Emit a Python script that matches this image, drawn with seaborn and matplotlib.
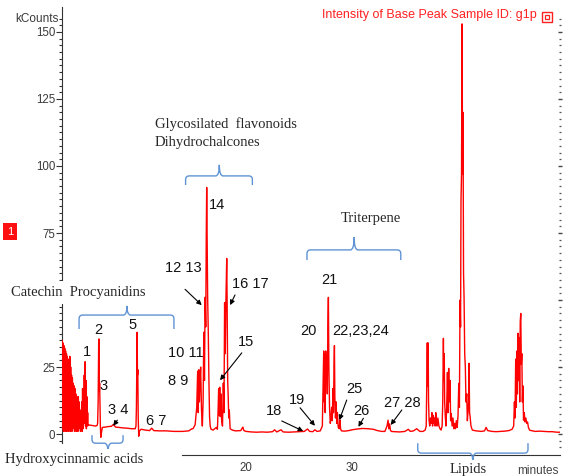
import numpy as np
import pandas as pd
import matplotlib
matplotlib.use("Agg")
import matplotlib.pyplot as plt
from matplotlib.path import Path
from matplotlib.patches import PathPatch, Rectangle
from matplotlib.ticker import FixedLocator, NullFormatter
import seaborn as sns

# ---- chromatogram trace: (retention time [min], intensity [kCounts]) ----
segment_start = [(2.66,35),(2.70,2),(2.74,34),(2.78,1),(2.82,33),(2.86,3),(2.90,32),(2.94,1),(2.98,31),(3.02,2),
                 (3.06,30),(3.10,1),(3.14,29),(3.18,4),(3.22,28),(3.26,1),(3.30,27),(3.34,2),(3.38,29),(3.42,1),
                 (3.46,25),(3.50,3),(3.54,22),(3.58,1),(3.62,21),(3.66,2),(3.70,19),(3.74,6),(3.78,18),(3.82,1),
                 (3.86,17),(3.90,3),(3.94,15),(3.98,1),(4.02,14),(4.06,5),(4.10,13),(4.14,1),(4.18,14),(4.22,2),
                 (4.26,12),(4.30,6),(4.34,9),(4.38,1),(4.42,8),(4.46,4),(4.50,12),(4.54,1),(4.58,17),(4.62,2),
                 (4.66,16),(4.70,5),(4.74,22),(4.78,4),(4.82,27),(4.86,3),(4.90,20),(4.94,2),(4.98,14),(5.02,3),
                 (5.06,8),(5.10,3.2)]
segment_early = [(5.2,3.4),(5.5,3.2),(5.8,3.0),(5.95,3.2),(6.0,4),(6.05,12),(6.10,34),(6.13,35.5),(6.16,16),
                 (6.19,19),(6.22,12),(6.26,3),(6.30,-1.2),(6.36,0.5),(6.45,2.5),(6.7,2.6),(7.0,2.8),(7.3,2.9),
                 (7.48,3.6),(7.7,2.6),(8.0,2.5),(8.4,2.3),(8.8,2.2),(9.2,2.0),(9.55,2.0),(9.62,3),(9.66,10),
                 (9.70,25),(9.73,38),(9.76,22),(9.79,24),(9.83,6),(9.88,-0.8),(9.95,1.2),(10.1,1.8),(10.5,1.5),
                 (10.9,1.3),(11.1,2.2),(11.3,1.3),(11.8,1.2),(12.5,1.2),(13.2,1.0),(14.0,1.0),(14.6,1.2),(14.9,2.0)]
segment_flavonoids = [(15.0,2.0),(15.2,3.5),(15.35,10),(15.44,23.5),(15.49,8),(15.55,24),(15.60,12),(15.66,20),
                      (15.72,25),(15.80,9),(15.88,3),(15.95,12),(16.02,38),(16.08,20),(16.14,51),(16.20,40),
                      (16.25,74),(16.29,92),(16.33,74),(16.38,51),(16.44,38),(16.50,20),(16.56,6.5),(16.62,3),
                      (16.70,1.8),(16.9,1.5),(17.2,2.5),(17.3,1.8),(17.36,8),(17.42,17),(17.47,7),(17.52,17.5),
                      (17.57,6.5),(17.63,15),(17.70,5),(17.78,3),(17.86,19),(17.92,8),(17.98,49),(18.04,30),
                      (18.10,49),(18.15,60),(18.18,65.5),(18.22,48),(18.27,20),(18.32,14),(18.37,6),(18.42,9),
                      (18.5,2),(18.7,1.5),(19.0,1.2),(19.5,1.3),(19.7,2.6),(19.8,1.3)]
segment_triterpene = [(20.0,1.0),(20.5,0.8),(21.0,0.7),(21.5,0.8),(22.0,0.7),(22.5,0.9),(22.7,1.6),(22.9,0.8),
                      (23.3,1.6),(23.5,0.8),(24.0,0.7),(24.5,0.8),(25.0,0.9),(25.5,1.0),(25.8,1.9),(26.0,1.0),
                      (26.3,0.9),(26.5,1.6),(26.7,1.0),(27.0,1.2),(27.2,3),(27.28,20),(27.33,31),(27.37,12),
                      (27.42,30),(27.47,8),(27.52,31),(27.57,20),(27.62,29),(27.67,15),(27.72,40),(27.77,51),
                      (27.82,24),(27.88,10),(27.95,4),(28.02,6),(28.08,10),(28.14,5),(28.20,17),(28.25,8),
                      (28.30,25),(28.34,33),(28.38,14),(28.44,6),(28.50,12),(28.56,4),(28.62,8),(28.70,2.5),
                      (28.80,2),(28.86,5.3),(28.92,2.0),(29.0,1.2),(29.3,1.1),(29.7,1.3),(30.0,1.6),(30.5,1.9),
                      (31.0,2.1),(31.5,2.0),(32.0,1.8),(32.4,1.3),(32.8,1.0),(33.1,1.0),(33.3,3),(33.4,5.2),
                      (33.47,2.0),(33.55,3.8),(33.62,1.5),(33.7,1.0),(34.0,0.9),(34.5,0.8),(35.0,1.0),(35.3,1.8),
                      (35.5,1.0),(35.8,1.2),(36.1,2.0),(36.4,1.0)]
segment_lipids = [(36.7,1.0),(36.9,1.5),(37.0,3),(37.06,20),(37.10,34),(37.14,18),(37.18,34),(37.22,12),(37.27,5),
                  (37.33,3),(37.40,6),(37.48,4),(37.54,8),(37.60,3),(37.66,7),(37.72,4),(37.78,6),(37.84,3),
                  (37.90,8),(37.96,5),(38.02,3),(38.10,6),(38.20,3),(38.30,2),(38.40,1.5),(38.50,3),(38.56,12),
                  (38.62,35.7),(38.66,20),(38.70,30),(38.74,12),(38.80,6.5),(38.86,3),(38.93,10),(39.00,23),
                  (39.06,8),(39.12,24.5),(39.18,12),(39.25,20),(39.30,5),(39.36,7.7),(39.44,3),(39.52,6),
                  (39.60,2),(39.68,4),(39.76,2),(39.84,5),(39.92,2.5),(40.00,7),(40.07,18.9),(40.13,10),
                  (40.19,50),(40.24,40),(40.28,87),(40.33,97),(40.38,153),(40.43,97),(40.47,120),(40.52,60),
                  (40.57,51),(40.63,30),(40.69,25),(40.75,12),(40.82,15),(40.88,5),(40.94,8),(40.99,12),
                  (41.04,26.4),(41.09,8),(41.14,6.5),(41.22,3),(41.35,1.5),(41.7,1.2),(42.2,1.0),(42.5,1.2),
                  (42.65,2.5),(42.8,1.3),(43.2,1.0),(43.6,0.9),(44.0,1.0),(44.4,1.1),(44.8,1.3),(45.1,1.8),
                  (45.25,3),(45.32,12),(45.38,6),(45.44,28),(45.50,10),(45.55,31),(45.60,15),(45.66,37.6),
                  (45.71,20),(45.76,36),(45.82,12),(45.87,42),(45.92,45),(45.97,26),(46.02,30),(46.07,12),
                  (46.12,18),(46.18,5.2),(46.25,8),(46.32,4.5),(46.40,6),(46.48,4),(46.56,4.5),(46.64,2.5),
                  (46.75,1.5),(46.9,1.3),(47.3,1.0),(47.7,1.1),(48.1,1.0),(48.5,0.9),(48.9,0.9),(49.3,0.7),(49.6,0.7)]

# ---- peak number labels (text, time, kCounts) ----
peak_labels = [("1",5.0,30.6),("2",6.04,38.8),("3",6.6,17.9),("3 4",7.92,9.0),("5",9.25,40.7),
               ("6 7",11.5,4.9),("8 9",13.6,19.8),("10 11",14.3,30.2),("12 13",14.06,62.0),("14",17.3,85.4),
               ("16 17",20.4,55.9),("15",20.0,34.2),("18",22.64,8.7),("19",24.8,12.7),("20",25.85,38.4),
               ("21",27.9,57.5),("22,23,24",30.85,38.4),("25",30.2,17.0),("26",30.85,8.7),("27 28",34.7,11.7)]
arrows = [((7.86,5.2),(7.48,3.1)),((14.25,54.0),(15.82,48.1)),((18.96,51.9),(18.5,48.1)),
          ((19.6,30.3),(17.55,20.1)),((23.37,4.9),(25.4,1.1)),((25.1,9.8),(26.5,3.1)),
          ((29.5,12.7),(28.8,5.2)),((31.07,5.9),(30.6,2.7)),((34.7,9.0),(33.65,3.4))]
# braces: (t_start, t_end, y_line, y_ends, t_tip, y_tip)
braces = [(4.25,13.2,44.4,39.2,8.77,47.8),(5.47,8.4,-3.4,-0.4,6.98,-6.7),
          (14.3,20.6,96.3,92.9,17.48,100.4),(25.75,34.6,68.7,64.9,30.2,73.5),
          (36.2,46.6,-7.1,-3.4,41.4,-10.4)]

y_major = [0, 25, 50, 75, 100, 125, 150]
y_major_labels = ["0", "25", "", "75", "100", "125", "150"]   # "50" hidden behind a label
x_major = [20, 30, 40]
x_major_labels = ["20", "30", ""]                              # "40" hidden behind "Lipids"

trace = segment_start + segment_early + segment_flavonoids + segment_triterpene + segment_lipids
df = pd.DataFrame(trace, columns=["time", "kcounts"])

sns.set_style("white")
plt.rcParams["font.family"] = ["Liberation Sans", "DejaVu Sans"]

W, H = 572, 476
def fx(x): return x / W
def fy(y): return 1 - y / H

fig = plt.figure(figsize=(5.72, 4.76), dpi=100)
ax = fig.add_axes([fx(62), fy(455), (560 - 62) / W, (455 - 7) / H])
sns.lineplot(data=df, x="time", y="kcounts", ax=ax, color="#ff0000", linewidth=1.0,
             sort=False, estimator=None, zorder=3)
ax.set_xlim(2.64, 49.62)
ax.set_ylim(-7.8, 159.3)
ax.set_xlabel("")
ax.set_ylabel("")

for s in ["top", "right"]:
    ax.spines[s].set_visible(False)
ax.spines["left"].set_bounds(-3.4, 159.3)
ax.spines["bottom"].set_bounds(14, 49.62)
for s in ["left", "bottom"]:
    ax.spines[s].set_color("#333333")
    ax.spines[s].set_linewidth(0.8)

ax.set_yticks(y_major)
ax.set_yticklabels(y_major_labels)
ax.yaxis.set_minor_locator(FixedLocator([v * 2.5 for v in range(-1, 63)]))
ax.set_xticks(x_major)
ax.set_xticklabels(x_major_labels)
ax.xaxis.set_minor_locator(FixedLocator(list(range(14, 50))))
ax.tick_params(axis="both", which="major", direction="out", length=4.3, width=0.8,
               color="#333333", labelcolor="#3a3a3a", labelsize=8.3, pad=0.5)
ax.tick_params(axis="both", which="minor", direction="out", length=2.4, width=0.8, color="#333333")
ax.tick_params(axis="x", which="major", pad=1)

# right-hand ruler
ax2 = ax.twinx()
ax2.set_ylim(-7.8, 159.3)
for s in ax2.spines.values():
    s.set_visible(False)
ax2.set_yticks(y_major)
ax2.yaxis.set_major_formatter(NullFormatter())
ax2.yaxis.set_minor_locator(FixedLocator([v * 2.5 for v in range(-2, 63)]))
ax2.tick_params(axis="y", which="major", direction="inout", length=3.5, width=1.0, color="#444444")
ax2.tick_params(axis="y", which="minor", direction="inout", length=1.6, width=0.9, color="#555555")

# peak labels and arrows
for txt, t, v in peak_labels:
    ax.text(t, v, txt, ha="center", va="center", fontsize=10.5, color="#111111", zorder=5)
for (tail, head) in arrows:
    ax.annotate("", xy=head, xytext=tail,
                arrowprops=dict(arrowstyle="-|>", color="black", lw=0.8, mutation_scale=7,
                                shrinkA=0, shrinkB=0), zorder=5)

# braces
dx, dy = 0.35, 1.4
for t0, t1, yh, ye, tm, yt in braces:
    s = 1 if yh > ye else -1
    verts = [(t0, ye), (t0, yh - s * dy), (t0, yh), (t0 + dx, yh), (tm - dx, yh), (tm, yh), (tm, yt),
             (tm, yh), (tm + dx, yh), (t1 - dx, yh), (t1, yh), (t1, yh - s * dy), (t1, ye)]
    codes = [Path.MOVETO, Path.LINETO, Path.CURVE3, Path.CURVE3, Path.LINETO, Path.CURVE3, Path.CURVE3,
             Path.CURVE3, Path.CURVE3, Path.LINETO, Path.CURVE3, Path.CURVE3, Path.LINETO]
    ax.add_patch(PathPatch(Path(verts, codes), fc="none", ec="#5f93d3", lw=1.0, clip_on=False, zorder=4))

# category labels
serif = ["Liberation Serif", "DejaVu Serif"]
fig.text(fx(155), fy(124), "Glycosilated  flavonoids", family=serif, fontsize=10.5, va="center", ha="left")
fig.text(fx(155), fy(142.5), "Dihydrochalcones", family=serif, fontsize=10.5, va="center", ha="left")
fig.text(fx(371), fy(219), "Triterpene", family=serif, fontsize=10.5, va="center", ha="center")
fig.text(fx(11), fy(292.5), "Catechin  Procyanidins", family=serif, fontsize=10.5, va="center", ha="left",
         bbox=dict(boxstyle="square,pad=0.35", fc="white", ec="none"))
fig.text(fx(5), fy(460), "Hydroxycinnamic acids", family=serif, fontsize=10.5, va="center", ha="left",
         bbox=dict(boxstyle="square,pad=0.3", fc="white", ec="none"))
fig.text(fx(468), fy(472.5), "Lipids", family=serif, fontsize=10.5, va="baseline", ha="center",
         bbox=dict(boxstyle="square,pad=0.15", fc="white", ec="none"))
fig.text(fx(517), fy(473.5), "minutes", fontsize=8.5, va="baseline", ha="left", color="#444444")

# header texts
fig.text(fx(59), fy(19), "kCounts", fontsize=8.5, ha="right", va="center", color="#3a3a3a")
fig.text(fx(322), fy(15), "Intensity of Base Peak Sample ID: g1p", fontsize=9, ha="left", va="center",
         color="#ff2020")
fig.patches.append(Rectangle((fx(542), fy(22)), 10 / W, 10 / H, transform=fig.transFigure,
                             fc="none", ec="#ff2020", lw=1.0))
fig.patches.append(Rectangle((fx(545), fy(19)), 4 / W, 4 / H, transform=fig.transFigure,
                             fc="none", ec="#ff2020", lw=0.9))
fig.patches.append(Rectangle((fx(3), fy(240)), 14 / W, 17 / H, transform=fig.transFigure,
                             fc="#ff1010", ec="none"))
fig.text(fx(10), fy(231.5), "1", fontsize=8, color="white", ha="center", va="center")

fig.savefig("out.png", dpi=100)
